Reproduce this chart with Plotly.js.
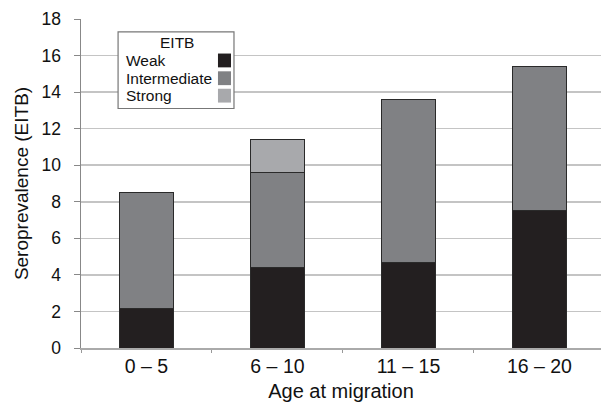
<!DOCTYPE html>
<html>
<head>
<meta charset="utf-8">
<script src="https://cdn.plot.ly/plotly-3.0.1.min.js"></script>
<style>html,body{margin:0;padding:0;background:#fff}#chart{width:601px;height:406px}</style>
</head>
<body>
<div id="chart"></div>
<script>
const categories = ["0 – 5", "6 – 10", "11 – 15", "16 – 20"];
const weak = [2.15, 4.4, 4.7, 7.5];
const intermediate = [6.35, 5.2, 8.9, 7.9];
const strong = [0, 1.8, 0, 0];
const seriesNames = ["Weak", "Intermediate", "Strong"];
const seriesColors = ["#231f20", "#808184", "#a8a9ac"];
const yTicks = [0, 2, 4, 6, 8, 10, 12, 14, 16, 18];
const legendTitle = "EITB";

const font = "Liberation Sans, Arial, Helvetica, sans-serif";
const seriesValues = [weak, intermediate, strong];

const traces = seriesValues.map((vals, i) => ({
  type: "bar",
  x: categories,
  y: vals,
  name: seriesNames[i],
  width: 0.41,
  marker: {color: seriesColors[i], line: {color: "#2a2a2a", width: 1}},
  showlegend: false,
  hoverinfo: "skip"
}));

// custom legend (text left, swatch right)
const shapes = [{
  type: "rect", xref: "paper", yref: "paper",
  x0: 0.0713, x1: 0.2942, y0: 0.728, y1: 0.961,
  line: {color: "#777", width: 1.2}, fillcolor: "#fff"
}];
const annotations = [{
  xref: "paper", yref: "paper", x: 0.184, y: 0.929,
  text: legendTitle, showarrow: false, xanchor: "center", yanchor: "middle",
  font: {family: font, size: 15.5, color: "#111"}
}];
const rowY = [0.874, 0.820, 0.767];
seriesNames.forEach((n, i) => {
  annotations.push({
    xref: "paper", yref: "paper", x: 0.082, y: rowY[i],
    text: n, showarrow: false, xanchor: "left", yanchor: "middle",
    font: {family: font, size: 15.5, color: "#111"}
  });
  shapes.push({
    type: "rect", xref: "paper", yref: "paper",
    x0: 0.2634, x1: 0.2885, y0: rowY[i] - 0.021, y1: rowY[i] + 0.021,
    line: {width: 0}, fillcolor: seriesColors[i]
  });
});

const layout = {
  width: 601, height: 406,
  margin: {l: 81, r: 0, t: 19, b: 58},
  barmode: "stack",
  paper_bgcolor: "#fff", plot_bgcolor: "#fff",
  font: {family: font, color: "#111"},
  xaxis: {
    type: "category",
    range: [-0.5, 3.47],
    tickson: "boundaries",
    ticks: "outside", ticklen: 3, tickcolor: "#999", tickwidth: 1,
    showgrid: false,
    showline: true, linecolor: "#aaa", linewidth: 1.5,
    tickfont: {family: font, size: 19.5, color: "#111"},
    title: {text: "Age at migration", font: {family: font, size: 20, color: "#111"}, standoff: 8}
  },
  yaxis: {
    range: [0, 18], tickvals: yTicks, ticktext: yTicks.map(String),
    ticks: "outside", ticklen: 6, tickcolor: "#888", tickwidth: 1,
    ticklabelstandoff: 9,
    showgrid: true, gridcolor: "#c4c4c4", gridwidth: 1.5,
    showline: true, linecolor: "#888", linewidth: 1.5,
    zeroline: false,
    tickfont: {family: font, size: 17.5, color: "#111"},
    title: {text: "Seroprevalence (EITB)", font: {family: font, size: 19, color: "#111"}, standoff: 8}
  },
  shapes: shapes,
  annotations: annotations
};

Plotly.newPlot("chart", traces, layout, {staticPlot: true, displayModeBar: false});
</script>
</body>
</html>
